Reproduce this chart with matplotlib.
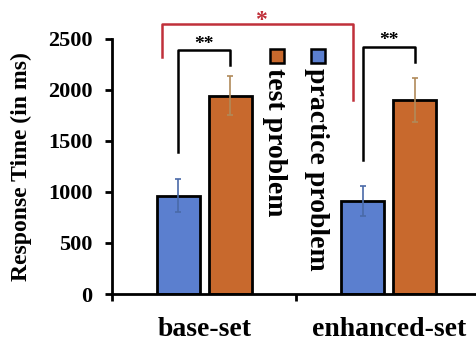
import matplotlib
matplotlib.use("Agg")
import matplotlib.pyplot as plt
from matplotlib.patches import Rectangle
import numpy as np

categories = ["base-set", "enhanced-set"]
series_names = ["practice problem", "test problem"]
practice = [965, 910]
practice_err = [160, 150]
test = [1945, 1900]
test_err = [195, 215]
yticks = [0, 500, 1000, 1500, 2000, 2500]

blue = "#5B7FCF"
orange = "#C8692D"

plt.rcParams['font.family'] = ['Liberation Serif', 'DejaVu Serif']
plt.rcParams['font.weight'] = 'bold'

fig = plt.figure(figsize=(4.76, 3.41), dpi=100)
ax = fig.add_axes([0.2353, 0.1378, 0.775, 0.748])

x = np.arange(len(categories))
w = 0.235
off = 0.141
ax.bar(x - off, practice, w, color=blue, edgecolor="black", linewidth=2, zorder=2)
ax.bar(x + off, test, w, color=orange, edgecolor="black", linewidth=2, zorder=2)
ax.errorbar(x - off, practice, yerr=practice_err, fmt="none", ecolor="#4A6AA8",
            elinewidth=1.2, capsize=2.5, capthick=1.2, zorder=3)
ax.errorbar(x + off, test, yerr=test_err, fmt="none", ecolor="#B08A5A",
            elinewidth=1.2, capsize=2.5, capthick=1.2, zorder=3)

ax.set_xlim(-0.5, 1.5)
ax.set_ylim(0, 2500)
ax.set_yticks(yticks)
ax.set_yticklabels([str(t) for t in yticks], fontsize=16, fontweight='bold')
ax.set_xticks([-0.5, 0.5, 1.5])
ax.set_xticklabels([])
for i, c in enumerate(categories):
    ax.text(i, -412, c, ha='center', va='baseline', fontsize=20, fontweight='bold')
ax.tick_params(axis='both', direction='out', length=5, width=2)
ax.tick_params(axis='y', pad=9)
for s in ['top', 'right']:
    ax.spines[s].set_visible(False)
for s in ['left', 'bottom']:
    ax.spines[s].set_linewidth(2)
ax.set_ylabel("Response Time (in ms)", fontsize=17, fontweight='bold')
ax.yaxis.set_label_coords(-0.217, 0.5)

# significance brackets
def bracket(x1, x2, ytop, y1, y2, color, lw, label, ly, lx=None, fs=14):
    ax.plot([x1, x1, x2, x2], [y1, ytop, ytop, y2], color=color, lw=lw,
            clip_on=False, zorder=4)
    if lx is None:
        lx = (x1 + x2) / 2
    ax.text(lx, ly, label, ha='center', va='center', color=color,
            fontsize=fs, fontweight='bold', clip_on=False)

bracket(-off, off, 2392, 1392, 2245, "black", 1.8, "**", 2450)
bracket(1 - off, 1 + off, 2421, 1314, 2275, "black", 1.8, "**", 2480)
bracket(-0.228, 0.808, 2647, 2324, 1902, "#C0303A", 1.8, "*", 2680, lx=0.309, fs=17)

# rotated legend
leg_items = [(0.393, 0.379, orange, series_names[1]), (0.618, 0.607, blue, series_names[0])]
for sx, tx, col, name in leg_items:
    ax.add_patch(Rectangle((sx - 0.038, 2265), 0.076, 137, facecolor=col,
                           edgecolor="black", linewidth=1.8, clip_on=False, zorder=4))
    ax.text(tx, 2216, name, rotation=270, ha='left', va='center',
            fontsize=20, fontweight='bold', rotation_mode='anchor')

fig.savefig("out.png", dpi=100)
